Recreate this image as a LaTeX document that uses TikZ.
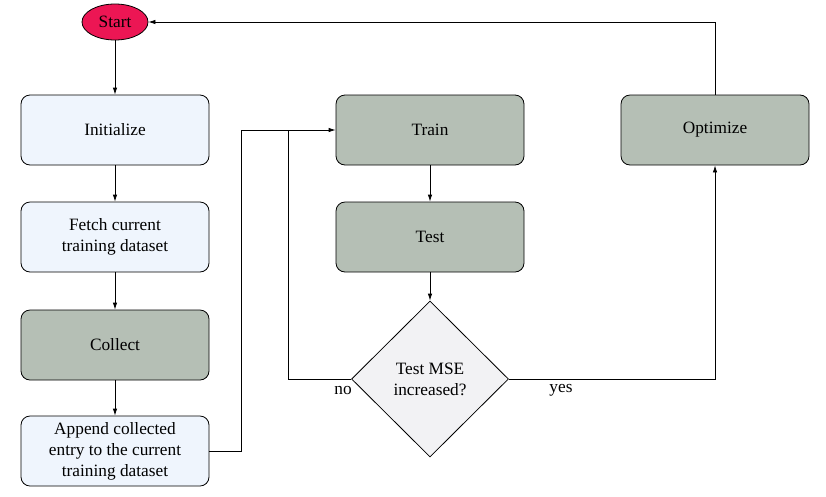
\documentclass[tikz,border=0pt]{standalone}
\usepackage{fontspec}
\setmainfont{Liberation Serif}
\usetikzlibrary{shapes.geometric,arrows.meta}
\definecolor{startred}{HTML}{EC1654}
\definecolor{lightblue}{HTML}{EFF5FD}
\definecolor{sage}{HTML}{B5BFB5}
\definecolor{diamgray}{HTML}{F2F2F4}
\tikzset{
  every node/.style={font=\fontsize{17.3}{21}\selectfont},
  box/.style={draw, rounded corners=9pt, minimum width=188pt, minimum height=70pt, align=center, line width=0.8pt},
  lightbox/.style={box, fill=lightblue},
  darkbox/.style={box, fill=sage},
  conn/.style={line width=0.8pt, -{Latex[length=7pt,width=4.5pt]}},
  plain/.style={line width=0.8pt}
}
\begin{document}
\begin{tikzpicture}[x=1pt,y=-1pt]
\useasboundingbox (0,0) rectangle (826,496);
\node[ellipse, draw, fill=startred, minimum width=66pt, minimum height=36pt, inner sep=0pt, line width=0.8pt] (start) at (115,22) {Start};
\node[lightbox] (init) at (115,130) {Initialize};
\node[lightbox] (fetch) at (115,237) {Fetch current\\training dataset};
\node[darkbox] (collect) at (115,345) {Collect};
\node[lightbox] (append) at (115,451) {Append collected\\entry to the current\\training dataset};
\node[darkbox] (train) at (430,130) {Train};
\node[darkbox] (test) at (430,237) {Test};
\node[diamond, draw, fill=diamgray, minimum width=157pt, minimum height=156pt, inner sep=0pt, align=center, line width=0.8pt] (dec) at (430,379) {Test MSE\\increased?};
\node[darkbox] (opt) at (715,130) {Optimize};
\coordinate (a1) at (241,451);
\coordinate (a2) at (241,130);
\coordinate (n1) at (288,379);
\coordinate (n2) at (288,130);
\coordinate (y1) at (715,379);
\coordinate (o1) at (715,22);
\draw[conn] (start) -- (init);
\draw[conn] (init) -- (fetch);
\draw[conn] (fetch) -- (collect);
\draw[conn] (collect) -- (append);
\draw[conn] (append.east) -- (a1) -- (a2) -- (train.west);
\draw[plain] (dec.west) -- (n1) -- (n2);
\draw[conn] (train) -- (test);
\draw[conn] (test) -- (dec.north);
\draw[conn] (dec.east) -- (y1) -- (opt.south);
\draw[conn] (opt.north) -- (o1) -- (start.east);
\node (no) at (343,390) {no};
\node (yes) at (561,390) {yes};
\end{tikzpicture}
\end{document}
